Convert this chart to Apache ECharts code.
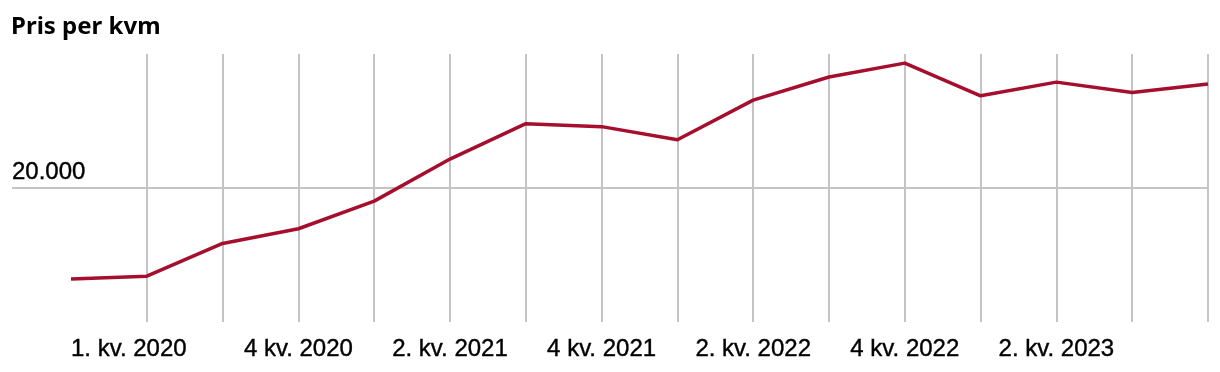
<!DOCTYPE html>
<html>
<head>
<meta charset="utf-8">
<script src="https://cdn.jsdelivr.net/npm/echarts@6/dist/echarts.min.js"></script>
<style>
html,body{margin:0;padding:0;background:#fff;}
#main{width:1220px;height:372px;}
</style>
</head>
<body>
<div id="main"></div>
<script>
const categories = [
  "1. kv. 2020", "2. kv. 2020", "3. kv. 2020", "4 kv. 2020",
  "1. kv. 2021", "2. kv. 2021", "3. kv. 2021", "4 kv. 2021",
  "1. kv. 2022", "2. kv. 2022", "3. kv. 2022", "4 kv. 2022",
  "1. kv. 2023", "2. kv. 2023", "3. kv. 2023", "4 kv. 2023"
];
const prisPerKvm = [
  16600, 16710, 17930, 18480, 19510, 21080, 22400, 22290,
  21800, 23280, 24140, 24660, 23440, 23950, 23560, 23880
];
const shownLabelIndexes = [0, 3, 5, 7, 9, 11, 13];
const yTickLabels = { 20000: "20.000" };

const chart = echarts.init(document.getElementById('main'), null, { renderer: 'canvas' });
const gridColor = '#c4c4c4';
const labelStyle = {
  fontFamily: 'Liberation Sans', fontSize: 24, color: '#000',
  textBorderColor: '#000', textBorderWidth: 0.4
};
chart.setOption({
  animation: false,
  title: {
    text: 'Pris per kvm',
    left: 11, top: 15, padding: 0,
    textStyle: { fontFamily: 'Noto Sans', fontWeight: 'bold', fontSize: 24, color: '#000' }
  },
  grid: [
    { left: 12, right: 12, top: 54, bottom: 50 },
    { left: 71, right: 12, top: 54, bottom: 50 }
  ],
  xAxis: [
    { type: 'value', gridIndex: 0, min: 0, max: 1, show: false },
    {
      type: 'category', gridIndex: 1, data: categories, boundaryGap: false,
      axisLine: { show: false }, axisTick: { show: false },
      splitLine: {
        show: true,
        interval: function (i) { return i > 0; },
        lineStyle: { color: gridColor, width: 2 }
      },
      axisLabel: Object.assign({
        interval: function (i) { return shownLabelIndexes.indexOf(i) >= 0; },
        alignMinLabel: 'left',
        margin: 15
      }, labelStyle)
    }
  ],
  yAxis: [
    {
      type: 'value', gridIndex: 0, min: 15000, max: 25000, interval: 5000,
      axisLine: { show: false }, axisTick: { show: false },
      splitLine: { show: true, lineStyle: { color: ['rgba(0,0,0,0)', gridColor, 'rgba(0,0,0,0)'], width: 2 } },
      axisLabel: Object.assign({
        inside: true, margin: 0, align: 'left', verticalAlign: 'bottom',
        padding: [0, 0, 4, 0],
        formatter: function (v) { return yTickLabels[v] || ''; }
      }, labelStyle)
    },
    { type: 'value', gridIndex: 1, min: 15000, max: 25000, show: false, splitLine: { show: false } }
  ],
  series: [{
    type: 'line', xAxisIndex: 1, yAxisIndex: 1,
    data: prisPerKvm, symbol: 'none',
    lineStyle: { color: '#a50f2d', width: 3.5 }
  }]
});
</script>
</body>
</html>
